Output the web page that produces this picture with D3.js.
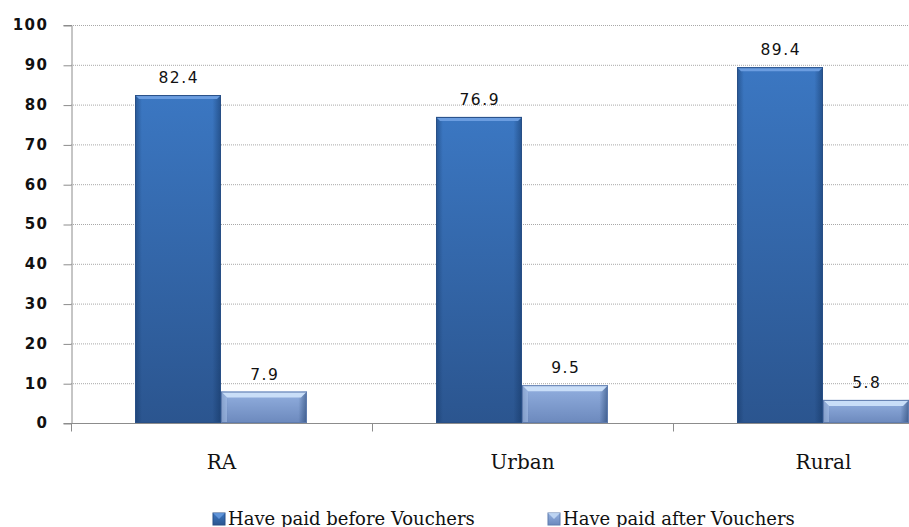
<!DOCTYPE html>
<html>
<head>
<meta charset="utf-8">
<script src="https://cdn.jsdelivr.net/npm/d3@7"></script>
<style>
	body{margin:0;background:#fff;}
	svg{display:block;}
</style>
</head>
<body>
<div id="container"></div>
<script>
var categories = ['RA','Urban','Rural'];
var seriesNames = ['Have paid before Vouchers','Have paid after Vouchers'];
var before = [82.4,76.9,89.4];
var after = [7.9,9.5,5.8];
var yTicks = [0,10,20,30,40,50,60,70,80,90,100];

var w = 909, h = 527;

var svg = d3.select('#container').append('svg')
	.attr('width',w)
	.attr('height',h);

var defs = svg.append('defs');

//gradients for the two bar styles
function vgrad(id,stops){
	var g = defs.append('linearGradient').attr('id',id)
		.attr('x1',0).attr('y1',0).attr('x2',0).attr('y2',1);
	stops.forEach(function(s){
		g.append('stop').attr('offset',s[0]).attr('stop-color',s[1]);
	});
}
function hgrad(id,stops){
	var g = defs.append('linearGradient').attr('id',id)
		.attr('x1',0).attr('y1',0).attr('x2',1).attr('y2',0);
	stops.forEach(function(s){
		g.append('stop').attr('offset',s[0]).attr('stop-color',s[1]).attr('stop-opacity',s[2]);
	});
}
vgrad('darkBody',[[0,'#3b77c2'],[1,'#2b558f']]);
vgrad('lightBody',[[0,'#93b0e0'],[1,'#6c89bd']]);
hgrad('sideShade',[[0,'#10305c',0.45],[0.08,'#10305c',0.0],[0.9,'#10305c',0.0],[1,'#10305c',0.5]]);

var styles = [
	{body:'url(#darkBody)',top:'#6b9de0',stroke:'#284f86'},
	{body:'url(#lightBody)',top:'#c9def8',stroke:'#5f7cae'}
];

var margin = {left:71, top:25, bottom:104};
var y = d3.scaleLinear().domain([0,100]).range([h-margin.bottom, margin.top]);
var x0 = d3.scaleBand().domain(categories).range([margin.left, margin.left+3*301]);
var x1 = d3.scaleBand().domain(seriesNames).range([64,236]);

var data = categories.map(function(c,i){
	return {cat:c, vals:[
		{name:seriesNames[0], v:before[i], s:0},
		{name:seriesNames[1], v:after[i], s:1}
	]};
});

//gridlines
svg.append('g').selectAll('line.grid')
	.data(yTicks.filter(function(t){ return t>0; }))
	.enter().append('line')
	.attr('x1',margin.left).attr('x2',w)
	.attr('y1',function(d){ return y(d)+0.5; })
	.attr('y2',function(d){ return y(d)+0.5; })
	.style('stroke','#a8a8a8')
	.style('stroke-width',1)
	.style('stroke-dasharray','1,1');

//bars
var groups = svg.append('g').selectAll('g.cat')
	.data(data)
	.enter().append('g')
	.attr('transform',function(d){ return 'translate(' +x0(d.cat) +',0)'; });

var bars = groups.selectAll('g.bar')
	.data(function(d){ return d.vals; })
	.enter().append('g');

bars.each(function(d){
	var g = d3.select(this),
		bx = x1(d.name),
		bw = x1.bandwidth(),
		by = y(d.v),
		bh = y(0)-y(d.v),
		st = styles[d.s],
		bev = d.s===0 ? 4 : 6;
	g.append('rect')
		.attr('x',bx).attr('y',by).attr('width',bw).attr('height',bh)
		.style('fill',st.body);
	g.append('rect')
		.attr('x',bx).attr('y',by).attr('width',bw).attr('height',bh)
		.style('fill','url(#sideShade)');
	g.append('path')
		.attr('d','M' +bx +',' +by +'L' +(bx+bw) +',' +by +'L' +(bx+bw-bev) +',' +(by+bev) +'L' +(bx+bev) +',' +(by+bev) +'Z')
		.style('fill',st.top);
	if(d.s===1){
		g.append('path')
			.attr('d','M' +bx +',' +by +'L' +(bx+bev) +',' +(by+bev) +'L' +(bx+bev) +',' +(by+bh) +'L' +bx +',' +(by+bh) +'Z')
			.style('fill','#a9c2ea').style('opacity',0.6);
	}
	g.append('rect')
		.attr('x',bx+0.5).attr('y',by+0.5).attr('width',bw-1).attr('height',bh-1)
		.style('fill','none').style('stroke',st.stroke).style('stroke-width',1);
	g.append('text')
		.attr('x',bx+bw/2+0.75).attr('y',by-12)
		.attr('text-anchor','middle')
		.style('font-family','"DejaVu Sans"')
		.style('font-size','15.5px')
		.style('letter-spacing','1.5px')
		.style('fill','#111')
		.text(d.v.toFixed(1));
});

//y axis
var yAxis = svg.append('g')
	.attr('transform','translate(' +(margin.left+0.5) +',0)')
	.call(d3.axisLeft(y).tickValues(yTicks).tickSize(8).tickPadding(15));
yAxis.select('.domain').style('stroke','#8c8c8c');
yAxis.selectAll('.tick line').style('stroke','#8c8c8c').attr('transform','translate(0,0.5)');
yAxis.selectAll('.tick text')
	.style('font-family','"DejaVu Sans"')
	.style('font-weight','bold')
	.style('font-size','15px')
	.style('letter-spacing','1.5px')
	.style('fill','#111');

//x axis
var xAxisG = svg.append('g')
	.attr('transform','translate(0,' +(y(0)+0.5) +')');
xAxisG.append('line')
	.attr('x1',margin.left).attr('x2',w)
	.style('stroke','#8c8c8c');
xAxisG.selectAll('line.tick')
	.data(categories.slice(1))
	.enter().append('line')
	.attr('x1',function(d){ return x0(d)+0.5; })
	.attr('x2',function(d){ return x0(d)+0.5; })
	.attr('y1',0).attr('y2',8)
	.style('stroke','#8c8c8c');
xAxisG.append('line')
	.attr('x1',margin.left+0.5).attr('x2',margin.left+0.5)
	.attr('y1',0).attr('y2',8)
	.style('stroke','#8c8c8c');
xAxisG.selectAll('text.cat')
	.data(categories)
	.enter().append('text')
	.attr('x',function(d){ return x0(d)+x0.bandwidth()/2; })
	.attr('y',45)
	.attr('text-anchor','middle')
	.style('font-family','"DejaVu Serif"')
	.style('font-size','20px')
	.style('fill','#111')
	.text(function(d){ return d; });

//legend
var legendX = [213,548];
var legend = svg.append('g').selectAll('g.leg')
	.data(seriesNames)
	.enter().append('g')
	.attr('transform',function(d,i){ return 'translate(' +legendX[i] +',' +(h-2) +')'; });
legend.append('rect')
	.attr('x',0).attr('y',-12).attr('width',12).attr('height',12)
	.style('fill',function(d,i){ return styles[i].body; })
	.style('stroke',function(d,i){ return styles[i].stroke; });
legend.append('path')
	.attr('d','M0,-12L12,-12L6,-6Z')
	.style('fill',function(d,i){ return styles[i].top; })
	.style('opacity',0.8);
legend.append('text')
	.attr('x',15)
	.attr('y',0)
	.style('font-family','"DejaVu Serif"')
	.style('font-size','18px')
	.style('fill','#111')
	.text(function(d){ return d; });
</script>
</body>
</html>
